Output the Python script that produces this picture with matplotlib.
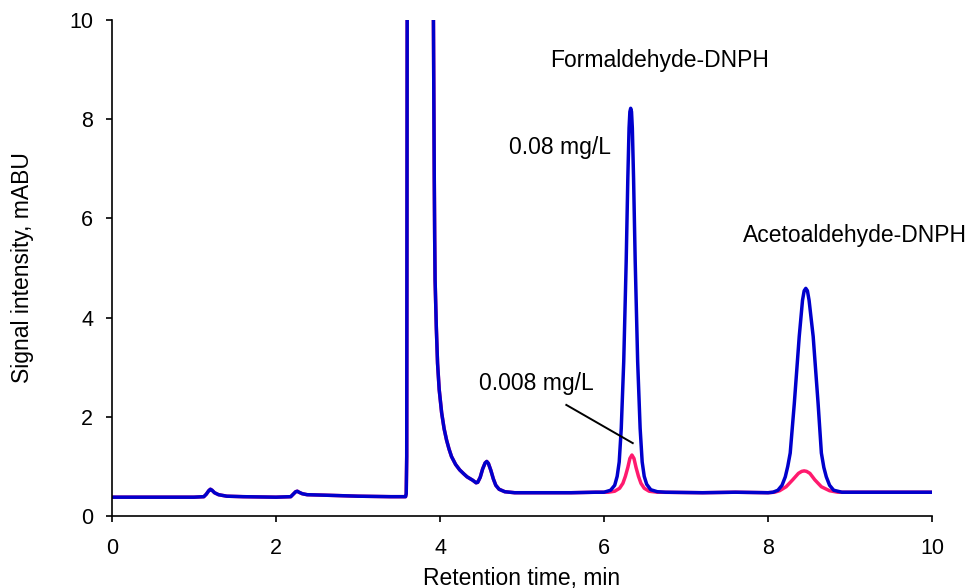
import numpy as np
import matplotlib.pyplot as plt

plt.rcParams['font.family'] = ['Liberation Sans', 'DejaVu Sans']

# 共用段：0 ~ 5.9 min（两条谱线重合）
early_t = [0.0, 0.5, 1.0, 1.12, 1.15, 1.18, 1.20, 1.22, 1.25, 1.30, 1.40, 1.6, 2.0, 2.18,
           2.21, 2.24, 2.26, 2.28, 2.32, 2.38, 2.6, 3.0, 3.4, 3.580, 3.588, 3.594, 3.600,
           3.75, 3.918, 3.93, 3.935, 3.94, 3.955, 3.97, 3.99, 4.02, 4.05, 4.08, 4.11, 4.14,
           4.19, 4.24, 4.29, 4.33, 4.40, 4.44, 4.46, 4.49, 4.52, 4.55, 4.57, 4.59, 4.62,
           4.65, 4.68, 4.72, 4.79, 4.91, 5.2, 5.6, 5.9]
early_s = [0.38, 0.38, 0.38, 0.39, 0.44, 0.51, 0.54, 0.52, 0.47, 0.43, 0.40, 0.39, 0.38, 0.39,
           0.44, 0.49, 0.50, 0.48, 0.45, 0.43, 0.42, 0.40, 0.39, 0.39, 0.45, 1.2, 10.5,
           30.0, 10.5, 6.8, 5.6, 4.76, 3.8, 3.08, 2.55, 2.08, 1.76, 1.53, 1.35, 1.20,
           1.04, 0.93, 0.85, 0.79, 0.72, 0.67, 0.68, 0.78, 0.95, 1.07, 1.10, 1.06, 0.92,
           0.75, 0.62, 0.54, 0.49, 0.47, 0.47, 0.47, 0.48]

# 甲醛-DNPH 峰
form_hi_t = [6.00, 6.08, 6.13, 6.16, 6.185, 6.21, 6.24, 6.27, 6.29, 6.305, 6.315, 6.325,
             6.335, 6.345, 6.36, 6.38, 6.41, 6.44, 6.465, 6.49, 6.52, 6.57, 6.65, 6.75]
form_hi_s = [0.48, 0.52, 0.62, 0.80, 1.09, 1.77, 3.11, 5.13, 6.81, 7.82, 8.15, 8.22,
             8.15, 7.82, 6.81, 5.13, 3.11, 1.77, 1.09, 0.80, 0.64, 0.53, 0.49, 0.48]
form_lo_t = [6.05, 6.13, 6.19, 6.23, 6.26, 6.29, 6.315, 6.34, 6.365, 6.39, 6.42, 6.45,
             6.49, 6.55, 6.65]
form_lo_s = [0.48, 0.50, 0.56, 0.66, 0.80, 0.98, 1.16, 1.23, 1.16, 0.98, 0.80, 0.66,
             0.56, 0.50, 0.48]

mid_t = [7.2, 7.6, 8.0]
mid_s = [0.47, 0.48, 0.47]

# 乙醛-DNPH 峰
acet_hi_t = [8.06, 8.12, 8.17, 8.21, 8.24, 8.27, 8.32, 8.38, 8.42, 8.44, 8.46, 8.48,
             8.50, 8.55, 8.61, 8.65, 8.68, 8.71, 8.75, 8.80, 8.90]
acet_hi_s = [0.48, 0.52, 0.62, 0.79, 1.00, 1.27, 2.27, 3.62, 4.35, 4.54, 4.59, 4.54,
             4.35, 3.62, 2.27, 1.27, 0.98, 0.79, 0.62, 0.52, 0.48]
acet_lo_t = [8.08, 8.14, 8.22, 8.30, 8.37, 8.41, 8.44, 8.47, 8.51, 8.57, 8.65, 8.75, 8.85]
acet_lo_s = [0.48, 0.51, 0.59, 0.73, 0.86, 0.90, 0.91, 0.90, 0.86, 0.73, 0.59, 0.51, 0.48]

tail_t = [9.3, 9.7, 10.0]
tail_s = [0.48, 0.48, 0.48]

blue_t = early_t + form_hi_t + mid_t + acet_hi_t + tail_t
blue_s = early_s + form_hi_s + mid_s + acet_hi_s + tail_s
pink_t = early_t + form_lo_t + mid_t + acet_lo_t + tail_t
pink_s = early_s + form_lo_s + mid_s + acet_lo_s + tail_s

fs = 16.5
tick_fs = 15.5

fig = plt.figure(figsize=(9.66, 5.88), dpi=100)
ax = fig.add_axes([0.1159, 0.1224, 0.849, 0.8436])

ax.plot(pink_t, pink_s, color='#ff1a6e', linewidth=2.5, solid_joinstyle='round')
ax.plot(blue_t, blue_s, color='#0000cc', linewidth=2.5, solid_joinstyle='round')

ax.set_xlim(0, 10)
ax.set_ylim(0, 10)
ax.set_xticks(np.arange(0, 11, 2))
ax.set_yticks(np.arange(0, 11, 2))
for side in ['top', 'right']:
    ax.spines[side].set_visible(False)
for side in ['left', 'bottom']:
    ax.spines[side].set_linewidth(1.2)
ax.tick_params(axis='both', direction='out', length=4.5, width=1.2, labelsize=tick_fs)
ax.tick_params(axis='x', pad=11)
ax.tick_params(axis='y', pad=9)

ax.set_xlabel('Retention time, min', fontsize=fs, labelpad=6)
ax.set_ylabel('Signal intensity, mABU', fontsize=fs, labelpad=25)

ax.text(6.68, 9.19, 'Formaldehyde-DNPH', fontsize=fs, ha='center', va='center')
ax.text(5.46, 7.42, '0.08 mg/L', fontsize=fs, ha='center', va='center')
ax.text(9.06, 5.65, 'Acetoaldehyde-DNPH', fontsize=fs, ha='center', va='center')
ax.text(5.17, 2.68, '0.008 mg/L', fontsize=fs, ha='center', va='center')
ax.plot([5.54, 6.35], [2.24, 1.47], color='black', linewidth=1.4)

plt.savefig('out.png', dpi=100)
